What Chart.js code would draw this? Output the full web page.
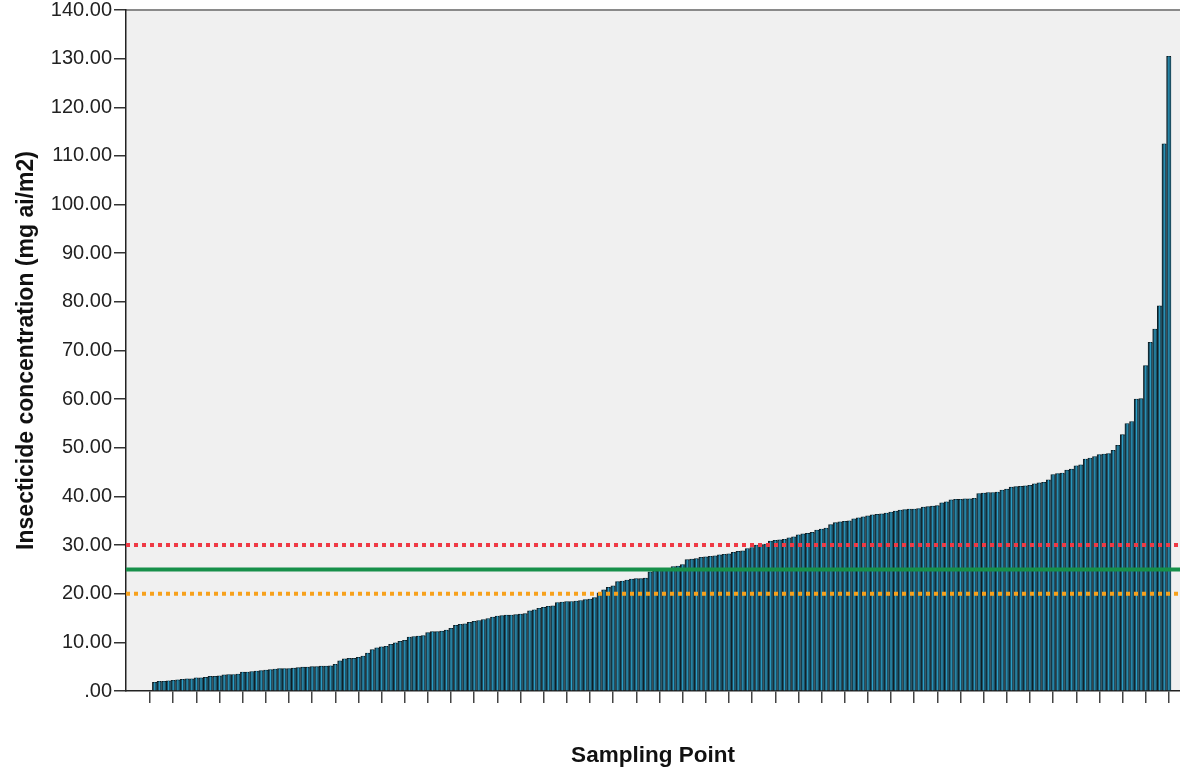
<!DOCTYPE html>
<html>
<head>
<meta charset="utf-8">
<script src="https://cdn.jsdelivr.net/npm/chart.js@4/dist/chart.umd.min.js"></script>
<style>
  body { margin: 0; background: #fff; }
  #wrap { width: 1180px; height: 774px; }
</style>
</head>
<body>
<div id="wrap"><canvas id="myChart" width="1180" height="774"></canvas></div>
<script>
// insecticide concentration per sampling point, sorted (mg ai/m2)
const CONCENTRATION = [
  0, 1.8, 2.0, 2.0, 2.1, 2.2, 2.3, 2.4, 2.5, 2.5,
  2.7, 2.7, 2.8, 3.0, 3.0, 3.1, 3.3, 3.4, 3.4, 3.5,
  3.9, 3.9, 4.0, 4.1, 4.2, 4.3, 4.4, 4.5, 4.6, 4.6,
  4.6, 4.7, 4.8, 4.9, 4.9, 5.0, 5.0, 5.1, 5.1, 5.2,
  5.5, 6.2, 6.6, 6.7, 6.7, 6.9, 7.2, 7.8, 8.5, 8.9,
  9.1, 9.2, 9.6, 9.9, 10.2, 10.4, 11.1, 11.2, 11.3, 11.4,
  12.0, 12.2, 12.2, 12.3, 12.5, 12.9, 13.5, 13.7, 13.8, 14.1,
  14.3, 14.5, 14.7, 14.9, 15.2, 15.4, 15.5, 15.6, 15.6, 15.7,
  15.8, 15.9, 16.5, 16.7, 17.0, 17.2, 17.4, 17.5, 18.2, 18.3,
  18.4, 18.4, 18.5, 18.6, 18.8, 18.9, 19.2, 20.2, 20.8, 21.3,
  21.6, 22.5, 22.6, 22.8, 23.0, 23.1, 23.1, 23.2, 24.5, 24.7,
  24.9, 25.0, 25.2, 25.6, 25.7, 26.0, 27.0, 27.1, 27.2, 27.5,
  27.6, 27.7, 27.8, 28.0, 28.1, 28.2, 28.5, 28.7, 28.8, 29.3,
  29.5, 30.0, 30.1, 30.2, 30.8, 31.0, 31.1, 31.2, 31.5, 31.7,
  32.1, 32.3, 32.4, 32.6, 33.1, 33.3, 33.5, 34.2, 34.6, 34.8,
  34.9, 35.0, 35.4, 35.6, 35.8, 36.0, 36.2, 36.3, 36.4, 36.6,
  36.8, 37.0, 37.2, 37.3, 37.4, 37.4, 37.5, 37.8, 37.9, 38.0,
  38.1, 38.7, 38.9, 39.3, 39.4, 39.4, 39.5, 39.5, 39.6, 40.6,
  40.7, 40.8, 40.8, 40.9, 41.3, 41.5, 41.9, 42.0, 42.1, 42.2,
  42.3, 42.6, 42.8, 42.9, 43.4, 44.5, 44.7, 44.8, 45.4, 45.6,
  46.3, 46.5, 47.7, 47.9, 48.2, 48.6, 48.7, 48.8, 49.5, 50.5,
  52.7, 55.0, 55.4, 60.0, 60.1, 66.9, 71.7, 74.4, 79.2, 112.5,
  130.5
];
const SAMPLE_POINTS = CONCENTRATION.map((_, i) => i);

// reference levels
const LOWER_LIMIT = 20;
const TARGET_DOSE = 25;
const UPPER_LIMIT = 30;

const Y_MAX = 140;
const Y_STEP = 10;
const TICK_EVERY = 5;

// x range so the bars sit like the original (a bit of room left of the first sample)
const X_MIN = -5.2;
const X_MAX = 222.4;

Chart.defaults.font.family = "'Liberation Sans', Arial, sans-serif";
Chart.defaults.color = '#222';

const plotBackground = {
  id: 'plotBackground',
  beforeDraw(chart) {
    const { ctx, chartArea } = chart;
    ctx.save();
    ctx.fillStyle = '#f0f0f0';
    ctx.fillRect(chartArea.left, chartArea.top, chartArea.right - chartArea.left, chartArea.bottom - chartArea.top);
    ctx.strokeStyle = '#8a8a8a';
    ctx.lineWidth = 2;
    ctx.beginPath();
    ctx.moveTo(chartArea.left, chartArea.top);
    ctx.lineTo(chartArea.right, chartArea.top);
    ctx.stroke();
    ctx.restore();
  }
};

function refLine(value, color, dash) {
  return {
    type: 'line',
    data: [{ x: X_MIN, y: value }, { x: X_MAX, y: value }],
    borderColor: color,
    borderWidth: 4,
    borderDash: dash,
    borderCapStyle: 'butt',
    pointRadius: 0,
    order: 0
  };
}

const ctx = document.getElementById('myChart').getContext('2d');
const myChart = new Chart(ctx, {
  type: 'bar',
  data: {
    labels: SAMPLE_POINTS,
    datasets: [
      refLine(UPPER_LIMIT, '#ef3a45', [4, 4]),
      refLine(TARGET_DOSE, '#17904a', []),
      refLine(LOWER_LIMIT, '#f7a11c', [4, 4]),
      {
        // light stripe inside every bar
        data: CONCENTRATION,
        backgroundColor: '#2ba2cc',
        borderWidth: 0,
        barPercentage: 0.22,
        categoryPercentage: 1,
        grouped: false,
        order: 1
      },
      {
        data: CONCENTRATION,
        backgroundColor: '#1d5064',
        borderColor: '#0e1d23',
        borderWidth: { top: 1, left: 1, right: 0, bottom: 0 },
        barPercentage: 1,
        categoryPercentage: 1,
        grouped: false,
        order: 2
      }
    ]
  },
  options: {
    responsive: false,
    devicePixelRatio: 1,
    animation: false,
    layout: { padding: { top: 0, right: 0, left: 0, bottom: 0 } },
    plugins: {
      legend: { display: false },
      tooltip: { enabled: false }
    },
    scales: {
      x: {
        type: 'linear',
        offset: false,
        min: X_MIN,
        max: X_MAX,
        afterBuildTicks: (scale) => {
          scale.ticks = SAMPLE_POINTS.filter(i => i % TICK_EVERY === 0).map(v => ({ value: v }));
        },
        ticks: { display: false },
        grid: { offset: false, drawOnChartArea: false, drawTicks: true, tickLength: 12, color: '#444', lineWidth: 1.5 },
        border: { color: '#222', width: 1.5 },
        title: {
          display: true,
          text: 'Sampling Point',
          color: '#111',
          font: { size: 22.5, weight: 'bold' },
          padding: { top: 39, bottom: 5 }
        }
      },
      y: {
        min: 0,
        max: Y_MAX,
        ticks: {
          stepSize: Y_STEP,
          padding: 2,
          font: { size: 20, lineHeight: 0.8 },
          color: '#222',
          callback: (v) => v === 0 ? '.00' : v.toFixed(2)
        },
        grid: { drawOnChartArea: false, drawTicks: true, tickLength: 12, color: '#333', lineWidth: 1.5 },
        border: { color: '#222', width: 1.5 },
        afterFit: (scale) => { scale.width = 126; },
        title: {
          display: true,
          text: 'Insecticide concentration (mg ai/m2)',
          color: '#111',
          font: { size: 23, weight: 'bold' },
          padding: { top: 13, bottom: 0 }
        }
      }
    }
  },
  plugins: [plotBackground]
});
</script>
</body>
</html>
